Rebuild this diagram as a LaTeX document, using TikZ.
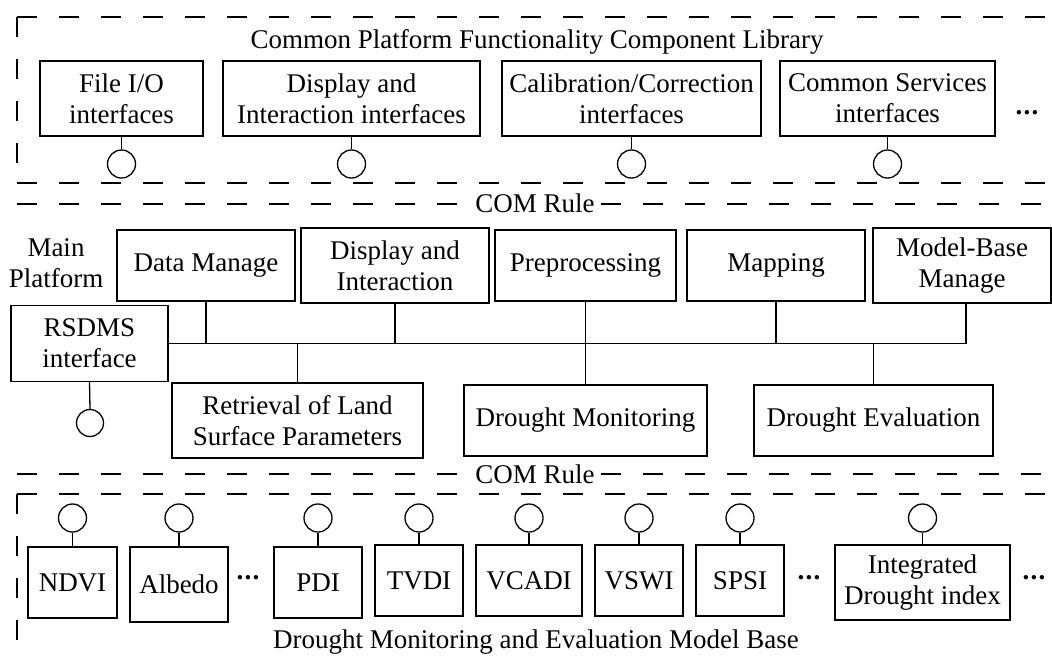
\documentclass[tikz,border=0pt]{standalone}
\usepackage{fontspec}
\setmainfont{Liberation Serif}
\begin{document}
\begin{tikzpicture}[x=1pt,y=-1pt,
  box/.style={draw, line width=1.3pt, align=center, inner sep=0pt, font=\fontsize{27}{31}\selectfont},
  port/.style={draw, circle, line width=1.3pt, minimum size=28pt, inner sep=0pt},
  wire/.style={line width=1.3pt},
  dline/.style={line width=1.2pt, dash pattern=on 20pt off 22pt},
  lbl/.style={font=\fontsize{27}{31}\selectfont, inner sep=0pt, align=center},
  dotsnode/.style={inner sep=0pt, font=\fontsize{27}{31}\selectfont\bfseries}]
\useasboundingbox (0,0) rectangle (1052,657);

% ---------- top section: component library ----------
\coordinate (tl) at (17,17);
\coordinate (tr) at (1052,17);
\coordinate (bl) at (17,183);
\coordinate (br) at (1052,183);
\draw[dline] (tl) -- (tr);
\draw[dline] (tl) -- (bl);
\draw[dline] (bl) -- (br);

\node[lbl, anchor=base] (title) at (537,48) {Common Platform Functionality Component Library};

\node[box, minimum width=163pt, minimum height=75pt] (fio) at (121.5,98.5) {File I/O\\interfaces};
\node[box, minimum width=257pt, minimum height=75pt] (dii) at (351.5,98.5) {Display and\\Interaction interfaces};
\node[box, minimum width=259pt, minimum height=75pt] (cci) at (631.5,98.5) {Calibration/Correction\\interfaces};
\node[box, minimum width=215pt, minimum height=75pt] (csi) at (887.5,98.5) {Common Services\\interfaces};
\node[dotsnode] (dt1) at (1027,113) {.\kern1.2pt.\kern1.2pt.};

\node[port] (fiop) at (121.5,164) {};
\node[port] (diip) at (351.5,164) {};
\node[port] (ccip) at (631.5,164) {};
\node[port] (csip) at (887.5,164) {};
\draw[wire] (fio.south) -- (fiop.north);
\draw[wire] (dii.south) -- (diip.north);
\draw[wire] (cci.south) -- (ccip.north);
\draw[wire] (csi.south) -- (csip.north);

% ---------- COM rule 1 ----------
\node[lbl, anchor=base, inner xsep=6pt] (com1) at (535,212) {COM Rule};
\coordinate (c1L) at (17,204);
\coordinate (c1R) at (1052,204);
\draw[dline] (c1L) -- (c1L -| com1.west);
\draw[dline] (com1.east |- c1R) -- (c1R);

% ---------- main platform ----------
\node[lbl] (mainp) at (56,263) {Main\\Platform};

\node[box, minimum width=178pt, minimum height=71pt] (dm) at (206,265.5) {Data Manage};
\node[box, minimum width=188pt, minimum height=75pt] (di) at (395,265.5) {Display and\\Interaction};
\node[box, minimum width=181pt, minimum height=71pt] (pre) at (585.5,265.5) {Preprocessing};
\node[box, minimum width=178pt, minimum height=71pt] (map) at (776,265.5) {Mapping};
\node[box, minimum width=178pt, minimum height=75pt] (mbm) at (962,265.5) {Model-Base\\Manage};

\node[box, minimum width=157pt, minimum height=76pt] (rsdms) at (89.5,343.5) {RSDMS\\interface};
\node[port, minimum size=27pt] (rsdmsp) at (90,423) {};
\draw[wire] (rsdms.south) -- (rsdmsp.north);

\node[box, minimum width=251pt, minimum height=75pt] (ret) at (297.5,420.5) {Retrieval of Land\\Surface Parameters};
\node[box, minimum width=243pt, minimum height=71pt] (dmon) at (585.5,420.5) {Drought Monitoring};
\node[box, minimum width=239pt, minimum height=71pt] (deval) at (873.5,420.5) {Drought Evaluation};

% bus
\coordinate (mbmstem) at ([xshift=4pt]mbm.south);
\coordinate (busR) at (mbmstem |- rsdms.east);
\draw[wire] (rsdms.east) -- (busR) -- (mbmstem);
\draw[wire] (dm.south) -- (dm.south |- busR);
\draw[wire] (di.south) -- (di.south |- busR);
\draw[wire] (pre.south) -- (pre.south |- busR);
\draw[wire] (map.south) -- (map.south |- busR);
\draw[wire] (ret.north) -- (ret.north |- busR);
\draw[wire] (dmon.north) -- (dmon.north |- busR);
\draw[wire] (deval.north) -- (deval.north |- busR);

% ---------- COM rule 2 ----------
\node[lbl, anchor=base, inner xsep=6pt] (com2) at (535,483) {COM Rule};
\coordinate (c2L) at (17,474);
\coordinate (c2R) at (1052,474);
\draw[dline] (c2L) -- (c2L -| com2.west);
\draw[dline] (com2.east |- c2R) -- (c2R);

% ---------- model base ----------
\coordinate (mtl) at (17,494);
\coordinate (mtr) at (1052,494);
\coordinate (mbl) at (17,657);
\draw[dline] (mtl) -- (mtr);
\draw[dline] (mtl) -- (mbl);

\node[box, minimum width=89pt, minimum height=71pt] (ndvi) at (72.5,582.5) {NDVI};
\node[box, minimum width=98pt, minimum height=75pt] (alb) at (179,584.5) {Albedo};
\node[dotsnode] (dt2) at (248,578) {.\kern1.2pt.\kern1.2pt.};
\node[box, minimum width=88pt, minimum height=71pt] (pdi) at (318,582.5) {PDI};
\node[box, minimum width=88pt, minimum height=71pt] (tvdi) at (419,580.5) {TVDI};
\node[box, minimum width=106pt, minimum height=71pt] (vcadi) at (529,580.5) {VCADI};
\node[box, minimum width=88pt, minimum height=71pt] (vswi) at (639,580.5) {VSWI};
\node[box, minimum width=88pt, minimum height=71pt] (spsi) at (740,580.5) {SPSI};
\node[dotsnode] (dt3) at (809,578) {.\kern1.2pt.\kern1.2pt.};
\node[box, minimum width=175pt, minimum height=75pt] (idi) at (922.5,582.5) {Integrated\\Drought index};
\node[dotsnode] (dt4) at (1034,578) {.\kern1.2pt.\kern1.2pt.};

\foreach \b in {ndvi,alb,pdi,tvdi,vcadi,vswi,spsi,idi}{
  \node[port] (\b p) at (\b.north |- 0,518) {};
  \draw[wire] (\b p.south) -- (\b.north);
}

\node[lbl, anchor=base] (mbtitle) at (536,648) {Drought Monitoring and Evaluation Model Base};
\end{tikzpicture}
\end{document}
